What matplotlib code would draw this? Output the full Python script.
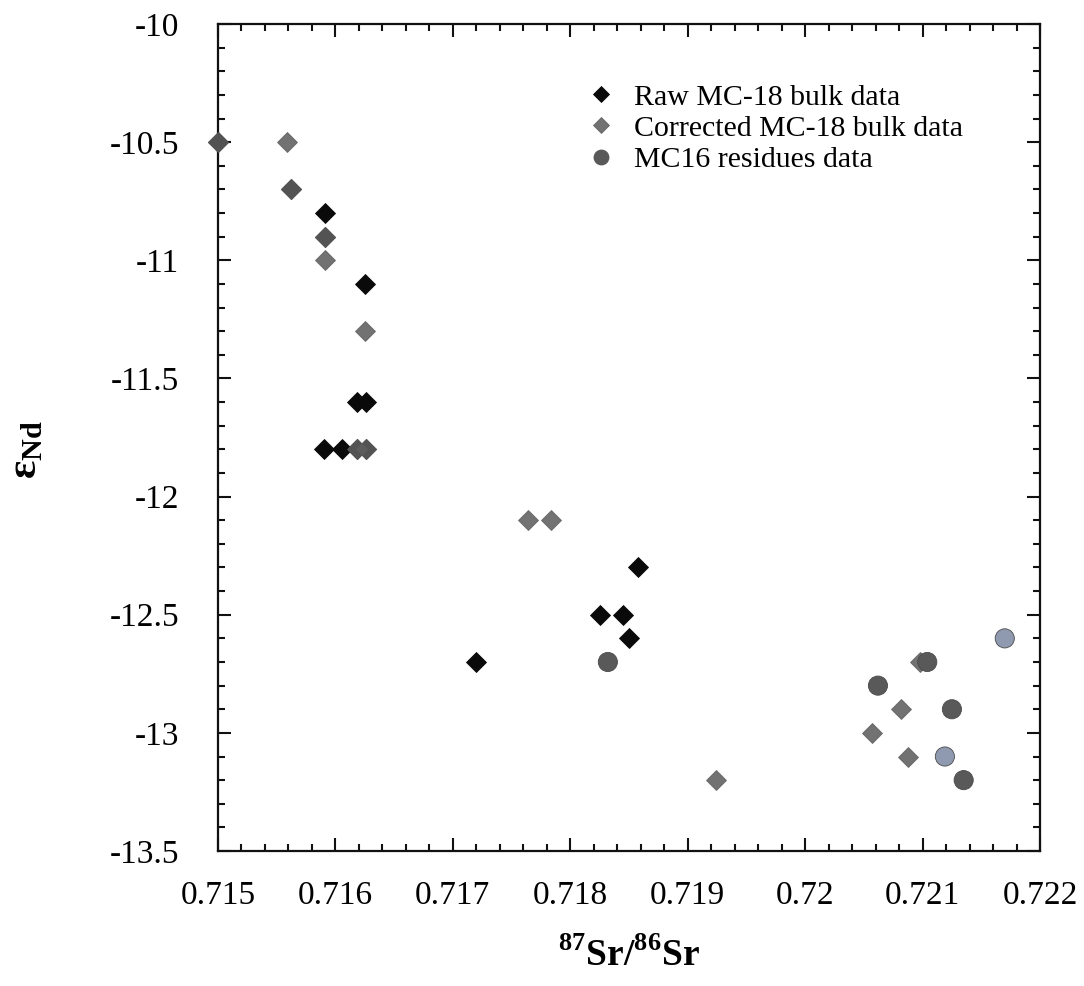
import matplotlib
matplotlib.use('Agg')
import matplotlib.pyplot as plt
from matplotlib.ticker import MultipleLocator

plt.rcParams['font.family'] = ['Liberation Serif', 'DejaVu Serif']
plt.rcParams['mathtext.fontset'] = 'custom'
plt.rcParams['mathtext.rm'] = 'Liberation Serif'
plt.rcParams['mathtext.bf'] = 'Liberation Serif:bold'

# Raw MC-18 bulk data
raw_x = [0.7150, 0.71562, 0.71591, 0.71591, 0.71625, 0.71618, 0.71626, 0.71590,
         0.71606, 0.71618, 0.71626, 0.71720, 0.71825, 0.71845, 0.71858, 0.71850]
raw_y = [-10.5, -10.7, -10.8, -10.9, -11.1, -11.6, -11.6, -11.8,
         -11.8, -11.8, -11.8, -12.7, -12.5, -12.5, -12.3, -12.6]

# Corrected MC-18 bulk data
corr_x = [0.7150, 0.71559, 0.71562, 0.71591, 0.71591, 0.71625, 0.71618, 0.71626,
          0.71764, 0.71784, 0.71924, 0.72057, 0.72082, 0.72088, 0.72098]
corr_y = [-10.5, -10.5, -10.7, -10.9, -11.0, -11.3, -11.8, -11.8,
          -12.1, -12.1, -13.2, -13.0, -12.9, -13.1, -12.7]

# MC16 residues data
res_x = [0.71832, 0.72062, 0.72104, 0.72125, 0.72135, 0.72119, 0.72170]
res_y = [-12.7, -12.8, -12.7, -12.9, -13.2, -13.1, -12.6]
res_colors = ['#595959', '#595959', '#595959', '#595959', '#595959', '#8f9ab0', '#8f9ab0']

fig = plt.figure(figsize=(10.84, 9.86), dpi=100)
ax = fig.add_axes([0.2011, 0.1369, 0.7583, 0.8387])

ax.plot(raw_x, raw_y, 'D', color='#0a0a0a', markersize=10.3, markeredgewidth=0.6,
        clip_on=False, zorder=3, label='Raw MC-18 bulk data')
ax.plot(corr_x, corr_y, 'D', color='#5e5e5e', alpha=0.88, markersize=10.3,
        markeredgewidth=0.6, clip_on=False, zorder=4, label='Corrected MC-18 bulk data')
ax.scatter(res_x, res_y, s=13.8 ** 2, c=res_colors, edgecolors='#4a4a4a', linewidths=0.6,
           clip_on=False, zorder=5)
# legend handle for residues
ax.plot([], [], 'o', color='#595959', markersize=13, label='MC16 residues data')

ax.set_xlim(0.715, 0.722)
ax.set_ylim(-13.5, -10)
ax.xaxis.set_major_locator(MultipleLocator(0.001))
ax.xaxis.set_minor_locator(MultipleLocator(0.0002))
ax.yaxis.set_major_locator(MultipleLocator(0.5))
ax.yaxis.set_minor_locator(MultipleLocator(0.1))

xt = [0.715, 0.716, 0.717, 0.718, 0.719, 0.72, 0.721, 0.722]
ax.set_xticks(xt)
ax.set_xticklabels([str(v) for v in xt])
yt = [-13.5, -13, -12.5, -12, -11.5, -11, -10.5, -10]
ax.set_yticks(yt)
ax.set_yticklabels(['%g' % v for v in yt])

ax.tick_params(which='both', direction='in', top=True, right=True, width=1.5,
               labelsize=24, color='#111111')
ax.tick_params(axis='x', which='both', pad=21)
ax.tick_params(axis='y', which='both', pad=28)
ax.tick_params(which='major', length=9.5)
ax.tick_params(which='minor', length=5)
for s in ax.spines.values():
    s.set_linewidth(1.6)
    s.set_color('#111111')

ax.set_xlabel(r'$^{\mathbf{87}}$Sr/$^{\mathbf{86}}$Sr', fontsize=27, fontweight='bold')
ax.xaxis.set_label_coords(0.5, -0.105)
ax.set_ylabel(r'ε$_{\mathbf{Nd}}$', fontsize=31, fontweight='bold')
ax.yaxis.set_label_coords(-0.21, 0.485)

ax.legend(loc='upper left', bbox_to_anchor=(0.43, 0.946), frameon=False, fontsize=21.5,
          handlelength=1.0, handletextpad=0.6, labelspacing=0.15, borderpad=0,
          markerscale=0.8, numpoints=1)

plt.savefig('out.png', dpi=100)
